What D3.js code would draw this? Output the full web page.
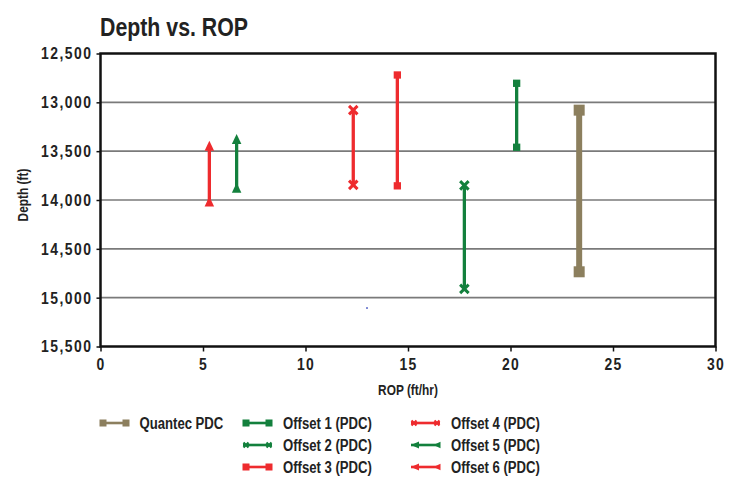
<!DOCTYPE html>
<html><head><meta charset="utf-8">
<script src="https://cdn.jsdelivr.net/npm/d3@7"></script>
<style>
body{margin:0;background:#fff;}
text{font-family:"Liberation Sans",Arial,sans-serif;font-weight:bold;fill:#222;}
</style></head>
<body><svg id="c" width="738" height="477"></svg>
<script>
const seriesNames = ["Quantec PDC","Offset 1 (PDC)","Offset 2 (PDC)","Offset 3 (PDC)","Offset 4 (PDC)","Offset 5 (PDC)","Offset 6 (PDC)"];
const seriesROP   = [23.35, 20.3, 17.75, 14.48, 12.33, 6.64, 5.31];
const depthTop    = [13080, 12805, 13850, 12720, 13080, 13375, 13445];
const depthBottom = [14735, 13460, 14910, 13855, 13845, 13875, 14015];
const seriesColor = ["#8c7f5e","#13803d","#13803d","#ee2b2e","#ee2b2e","#13803d","#ee2b2e"];
const seriesMarker= ["square","square","x","square","x","triangle","triangle"];
const xTicks = [0,5,10,15,20,25,30];
const yTicks = [12500,13000,13500,14000,14500,15000,15500];
const strayPoint = [{rop:13.0, depth:15105}];

const NARROW = 0.82;
function narrow(sel){
  sel.each(function(){
    const t=d3.select(this);
    const xx=+t.attr("x")||0, yy=+t.attr("y")||0;
    const prev=t.attr("transform")||"";
    t.attr("x",0).attr("y",0).attr("transform",`${prev} translate(${xx},${yy}) scale(${NARROW},1)`);
  });
}

const svg = d3.select("#c");
const L=100.5, R=715.5, T=53.5, B=346.5;
const x = d3.scaleLinear().domain([0,30]).range([L,R]);
const y = d3.scaleLinear().domain([12500,15500]).range([T,B]);

svg.append("text").attr("x",100).attr("y",36).attr("font-size",26).text("Depth vs. ROP").call(narrow);

// gridlines
svg.append("g").selectAll("line").data(yTicks.slice(1,-1)).join("line")
  .attr("x1",L).attr("x2",R).attr("y1",d=>y(d)).attr("y2",d=>y(d))
  .attr("stroke","#7a7a7a").attr("stroke-width",1.6);

// axes
const yAxis = d3.axisLeft(y).tickValues(yTicks).tickSize(4).tickSizeOuter(0).tickFormat(d3.format(","));
const gy = svg.append("g").attr("transform",`translate(${L},0)`).call(yAxis);
gy.select(".domain").remove();
gy.selectAll("line").attr("stroke","#111").attr("stroke-width",1.5);
gy.selectAll("text").attr("font-size",17).attr("letter-spacing","1.8px").attr("x",-8).attr("fill","#222")
  .style("font-family","'Liberation Sans',Arial,sans-serif").style("font-weight","bold").call(narrow);

const xAxis = d3.axisBottom(x).tickValues(xTicks).tickSize(5).tickSizeOuter(0);
const gx = svg.append("g").attr("transform",`translate(0,${B})`).call(xAxis);
gx.select(".domain").remove();
gx.selectAll("line").attr("stroke","#111").attr("stroke-width",1.5);
gx.selectAll("text").attr("font-size",17).attr("letter-spacing","1.6px").attr("y",11).attr("fill","#222")
  .style("font-family","'Liberation Sans',Arial,sans-serif").style("font-weight","bold").call(narrow);

// border
svg.append("rect").attr("x",L).attr("y",T).attr("width",R-L).attr("height",B-T)
  .attr("fill","none").attr("stroke","#111").attr("stroke-width",2.5);

svg.append("text").attr("x",(L+R)/2).attr("y",395).attr("text-anchor","middle").attr("font-size",14.5).text("ROP (ft/hr)").call(narrow);
svg.append("text").attr("transform","translate(28,195) rotate(-90)").attr("text-anchor","middle").attr("font-size",14.5).text("Depth (ft)").call(narrow);

function marker(g, type, cx, cy, s, color, sw){
  if(type==="square"){
    g.append("rect").attr("x",cx-s/2).attr("y",cy-s/2).attr("width",s).attr("height",s).attr("fill",color);
  } else if(type==="x"){
    const h=s/2;
    g.append("path").attr("d",`M${cx-h},${cy-h}L${cx+h},${cy+h}M${cx-h},${cy+h}L${cx+h},${cy-h}`)
      .attr("stroke",color).attr("stroke-width",sw).attr("fill","none");
  } else if(type==="triangle"){
    const w=s*0.95, h=s;
    g.append("path").attr("d",`M${cx},${cy-h/2}L${cx+w/2},${cy+h/2}L${cx-w/2},${cy+h/2}Z`).attr("fill",color);
  } else if(type==="tleft"){
    const w=s, h=s*0.9;
    g.append("path").attr("d",`M${cx-w/2},${cy}L${cx+w/2},${cy-h/2}L${cx+w/2},${cy+h/2}Z`).attr("fill",color);
  }
}

// series
const gs = svg.append("g");
seriesNames.forEach((n,i)=>{
  const g = gs.append("g");
  const q = i===0;
  g.append("line").attr("x1",x(seriesROP[i])).attr("x2",x(seriesROP[i]))
    .attr("y1",y(depthTop[i])).attr("y2",y(depthBottom[i]))
    .attr("stroke",seriesColor[i]).attr("stroke-width",q?6:3.3);
  const s = q?11: (seriesMarker[i]==="square"?7.3:(seriesMarker[i]==="x"?8.5:10));
  [depthTop[i],depthBottom[i]].forEach(d=>marker(g,seriesMarker[i],x(seriesROP[i]),y(d),s,seriesColor[i],3));
});

svg.append("g").selectAll("rect").data(strayPoint).join("rect")
  .attr("x",d=>x(d.rop)-1).attr("y",d=>y(d.depth)-0.5).attr("width",2).attr("height",1.2).attr("fill","#3344bb");

// legend
const legX = [100, 243, 243, 243, 411, 411, 411];
const legRow = [0,0,1,2,0,1,2];
const rowY = [423, 445, 467];
const lg = svg.append("g");
seriesNames.forEach((n,i)=>{
  const g = lg.append("g");
  const x0 = legX[i], yy = rowY[legRow[i]], w = 29;
  const c = seriesColor[i];
  g.append("line").attr("x1",x0).attr("x2",x0+w).attr("y1",yy).attr("y2",yy).attr("stroke",c).attr("stroke-width",2.6);
  const m = seriesMarker[i];
  if(m==="square"){ marker(g,"square",x0+3,yy,7,c); marker(g,"square",x0+w-3,yy,7,c); }
  else if(m==="x"){ marker(g,"x",x0+3,yy,5,c,2.2); marker(g,"x",x0+w-3,yy,5,c,2.2); }
  else { marker(g,"tleft",x0+4,yy,8,c); marker(g,"tleft",x0+w-3,yy,7,c); }
  g.append("text").attr("x",x0+(i===0?39.5:40)).attr("y",yy+5.5).attr("font-size",16).text(n).call(narrow);
});
</script></body></html>
